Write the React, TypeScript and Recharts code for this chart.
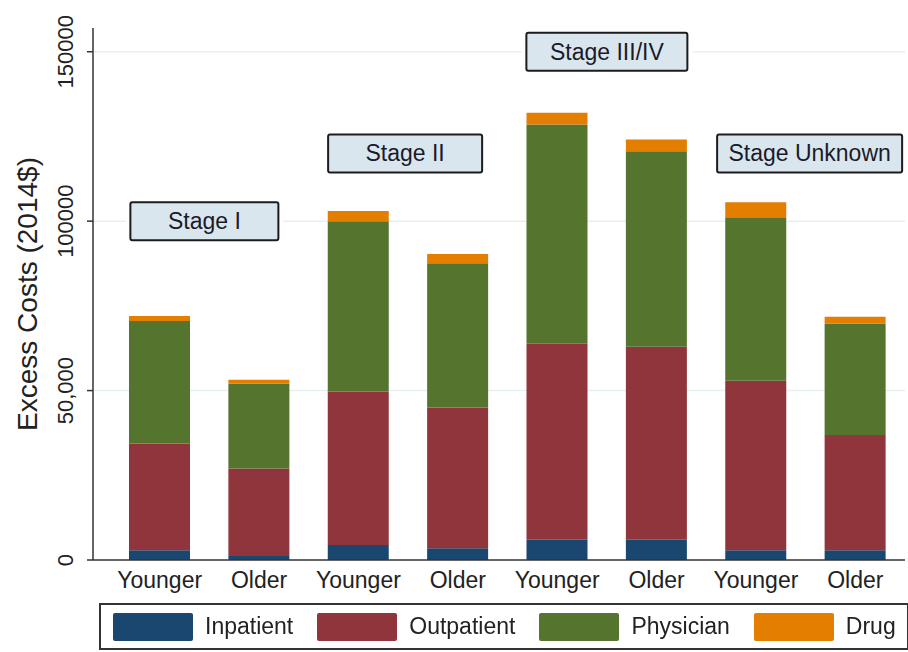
import { Bar, BarChart, CartesianGrid, ReferenceArea, XAxis, YAxis } from "recharts";

const ids = ["Y1", "O1", "Y2", "O2", "Y3", "O3", "Y4", "O4"];
const ageGroups = ["Younger", "Older", "Younger", "Older", "Younger", "Older", "Younger", "Older"];

const inpatient = [2900, 1200, 4400, 3500, 6000, 6000, 2900, 2900];
const outpatient = [31500, 25800, 45300, 41500, 57800, 56900, 50000, 34000];
const physician = [36100, 25000, 50300, 42600, 64700, 57700, 48000, 32800];
const drug = [1500, 1200, 3000, 2700, 3500, 3500, 4700, 2100];

const yTicks = [0, 50000, 100000, 150000];
const yTickLabels = ["0", "50,000", "100000", "150000"];

const stages = [
  { text: "Stage I", from: "Y1", to: "O1", at: 100000 },
  { text: "Stage II", from: "Y2", to: "O2", at: 120000 },
  { text: "Stage III/IV", from: "Y3", to: "O3", at: 150000 },
  { text: "Stage Unknown", from: "Y4", to: "O4", at: 120000 },
];

const series = [
  { key: "inpatient", name: "Inpatient", color: "#1a476f" },
  { key: "outpatient", name: "Outpatient", color: "#90353b" },
  { key: "physician", name: "Physician", color: "#55752f" },
  { key: "drug", name: "Drug", color: "#e37e00" },
];

const data = ids.map((id, i) => ({
  id,
  age: ageGroups[i],
  inpatient: inpatient[i],
  outpatient: outpatient[i],
  physician: physician[i],
  drug: drug[i],
}));

const font = '"Liberation Sans", Arial, sans-serif';
const boxWidths: Record<string, number> = {
  "Stage I": 148,
  "Stage II": 154,
  "Stage III/IV": 161,
  "Stage Unknown": 185,
};
const boxShift: Record<string, number> = {
  "Stage I": -5,
  "Stage II": -3,
  "Stage III/IV": 0,
  "Stage Unknown": 4,
};

function StageBox(props: any, text: string) {
  const cx = props.x + props.width / 2 + boxShift[text];
  const cy = props.y + props.height / 2;
  const w = boxWidths[text];
  const h = 38;
  return (
    <g>
      <rect x={cx - w / 2 - 5} y={cy - h / 2 - 5} width={w + 10} height={h + 10} fill="#fff" />
      <rect x={cx - w / 2} y={cy - h / 2} width={w} height={h} rx={2} fill="#dae6ee" stroke="#1c1c1c" strokeWidth={2} />
      <text x={cx} y={cy + 8} textAnchor="middle" fontSize={23} fontFamily={font} fill="#1a1a2a">
        {text}
      </text>
    </g>
  );
}

function YTick({ x, y, payload }: any) {
  const idx = yTicks.indexOf(payload.value);
  return (
    <text
      x={73}
      y={y}
      transform={`rotate(-90, 73, ${y})`}
      textAnchor="middle"
      fontSize={22}
      fontFamily={font}
      fill="#222"
    >
      {yTickLabels[idx]}
    </text>
  );
}

function XTick({ x, y, payload }: any) {
  const i = ids.indexOf(payload.value);
  return (
    <text x={x} y={588} textAnchor="middle" fontSize={23} fontFamily={font} fill="#222">
      {ageGroups[i]}
    </text>
  );
}

function YLabel({ viewBox }: any) {
  const cy = 294;
  return (
    <text x={37} y={cy} transform={`rotate(-90, 37, ${cy})`} textAnchor="middle" fontSize={28} fontFamily={font} fill="#222">
      Excess Costs (2014$)
    </text>
  );
}

export default function App() {
  return (
    <div style={{ position: "fixed", left: 0, top: 0, width: 908, height: 652, background: "#fff" }}>
      <BarChart width={908} height={600} data={data} margin={{ top: 28, right: 3, left: 0, bottom: 0 }}>
        <CartesianGrid vertical={false} stroke="#e6eff2" strokeWidth={1.5} horizontalValues={[50000, 100000, 150000]} />
        <XAxis
          dataKey="id"
          height={40}
          padding={{ left: 17, right: 0 }}
          tickLine={false}
          tick={<XTick />}
          stroke="#333"
          strokeWidth={1.5}
          interval={0}
        />
        <YAxis
          width={93}
          domain={[0, 157000]}
          ticks={yTicks}
          tick={<YTick />}
          tickSize={6}
          stroke="#333"
          strokeWidth={1.5}
          label={<YLabel />}
        />
        {series.map((s) => (
          <Bar key={s.key} dataKey={s.key} name={s.name} stackId="a" fill={s.color} barSize={61} isAnimationActive={false} />
        ))}
        {stages.map((st) => (
          <ReferenceArea
            key={st.text}
            x1={st.from}
            x2={st.to}
            y1={st.at - 1000}
            y2={st.at + 1000}
            ifOverflow="visible"
            shape={(p: any) => StageBox(p, st.text)}
          />
        ))}
      </BarChart>
      <div
        style={{
          position: "absolute",
          left: 99,
          top: 603,
          width: 806,
          height: 43,
          border: "2px solid #333",
          display: "flex",
          alignItems: "center",
          fontFamily: font,
          fontSize: 23,
          color: "#222",
          boxSizing: "content-box",
        }}
      >
        {series.map((s, i) => (
          <div key={s.key} style={{ display: "flex", alignItems: "center", marginLeft: i === 0 ? 12 : 24 }}>
            <div style={{ width: 80, height: 28, background: s.color, borderRadius: 2, marginRight: 12 }} />
            <span>{s.name}</span>
          </div>
        ))}
      </div>
    </div>
  );
}
